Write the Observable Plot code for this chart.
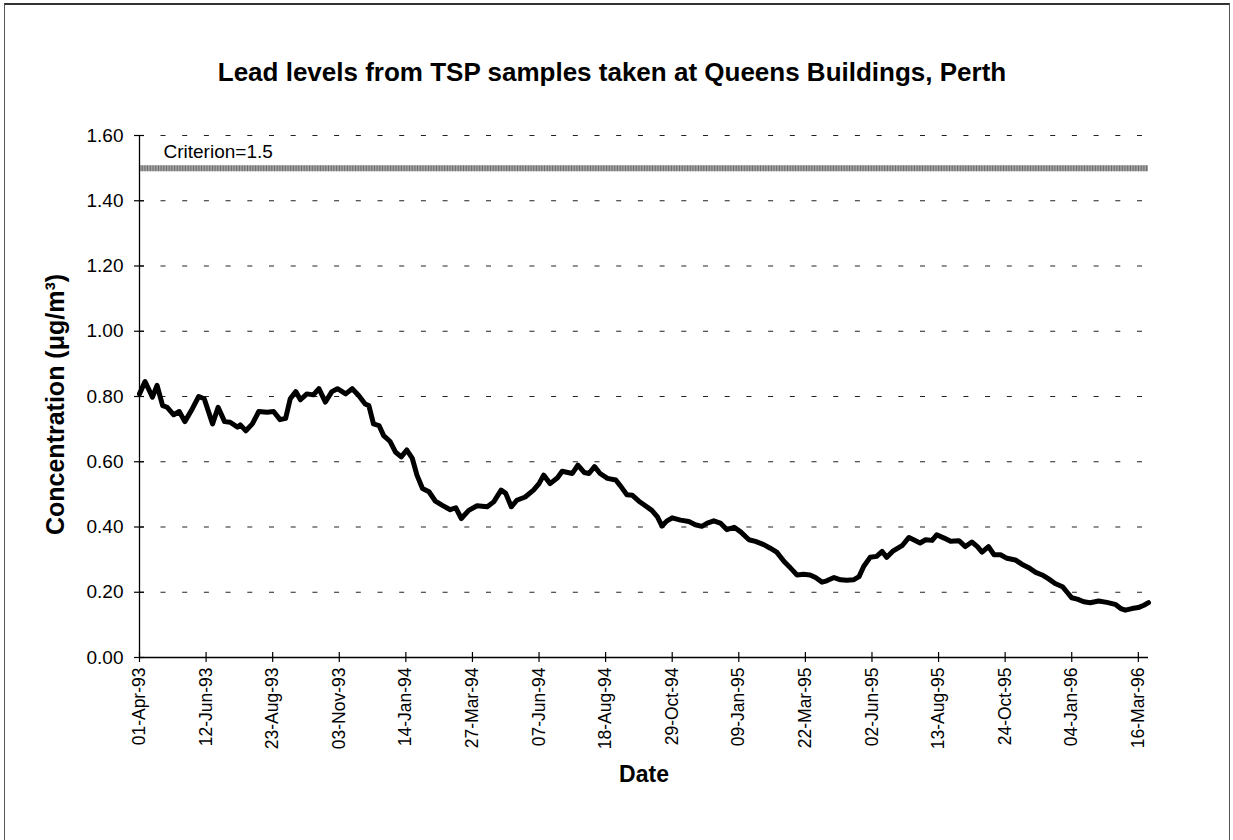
<!DOCTYPE html>
<html>
<head>
<meta charset="utf-8">
<script src="https://cdn.jsdelivr.net/npm/d3@7"></script>
<script src="https://cdn.jsdelivr.net/npm/@observablehq/plot@0.6"></script>
<style>
  html, body { margin: 0; padding: 0; background: #fff; }
  #page { position: relative; width: 1233px; height: 840px; overflow: hidden; font-family: "Liberation Sans", Arial, sans-serif; }
  #border { position: absolute; left: 4px; top: 3px; width: 1226px; height: 860px; border-left: 1.5px solid #555; border-top: 2px solid #333; border-right: 1.5px solid #555; box-sizing: border-box; }
  #title { position: absolute; left: 0; top: 57px; width: 1224px; text-align: center; font-weight: bold; font-size: 26px; color: #000; }
  #chart { position: absolute; left: 0; top: 100px; }
</style>
</head>
<body>
<div id="page">
  <div id="border"></div>
  <div id="title">Lead levels from TSP samples taken at Queens Buildings, Perth</div>
  <div id="chart"></div>
</div>
<script>
// ---- data ----
const startDate = "1993-04-01";
// days since 01-Apr-93
const dayOffsets = [0,6,14,19,25,30,37,43,49,57,64,70,79,85,92,98,106,109,115,122,129,138,145,152,158,163,169,174,181,188,194,201,208,214,223,230,237,244,248,253,259,264,271,277,283,289,295,300,306,313,320,327,336,342,348,356,365,376,383,391,396,402,408,417,426,432,437,444,452,457,468,474,481,486,492,498,506,515,520,527,533,540,547,554,560,565,570,576,585,594,601,608,614,621,628,635,643,650,659,666,675,682,689,697,704,711,718,725,731,738,743,751,758,765,772,778,783,790,797,803,808,815,825,832,837,844,850,857,862,870,877,886,893,900,906,911,918,924,931,938,947,954,961,969,976,983,990,998,1003,1008,1014,1021,1028,1037,1046,1055,1061,1066,1073,1080,1086,1091];
const leadValues = [0.808,0.846,0.798,0.834,0.772,0.767,0.744,0.754,0.723,0.762,0.800,0.793,0.716,0.767,0.723,0.721,0.706,0.713,0.695,0.716,0.754,0.752,0.754,0.729,0.733,0.793,0.815,0.790,0.808,0.805,0.824,0.783,0.815,0.824,0.808,0.824,0.803,0.777,0.772,0.716,0.711,0.680,0.662,0.629,0.615,0.636,0.610,0.559,0.518,0.508,0.479,0.467,0.453,0.459,0.426,0.451,0.465,0.462,0.477,0.513,0.503,0.462,0.482,0.492,0.513,0.533,0.559,0.533,0.551,0.571,0.564,0.590,0.567,0.564,0.585,0.564,0.549,0.544,0.526,0.499,0.497,0.479,0.465,0.451,0.431,0.403,0.418,0.428,0.421,0.417,0.407,0.402,0.412,0.419,0.412,0.392,0.399,0.385,0.361,0.356,0.346,0.335,0.323,0.294,0.274,0.253,0.255,0.253,0.245,0.231,0.235,0.245,0.238,0.237,0.238,0.248,0.279,0.307,0.310,0.325,0.307,0.327,0.344,0.368,0.361,0.351,0.361,0.359,0.376,0.366,0.356,0.358,0.340,0.354,0.340,0.323,0.340,0.315,0.315,0.304,0.299,0.286,0.276,0.261,0.253,0.241,0.227,0.217,0.200,0.183,0.179,0.171,0.168,0.173,0.169,0.163,0.150,0.145,0.150,0.153,0.160,0.168];
const xTickLabels = ["01-Apr-93","12-Jun-93","23-Aug-93","03-Nov-93","14-Jan-94","27-Mar-94","07-Jun-94","18-Aug-94","29-Oct-94","09-Jan-95","22-Mar-95","02-Jun-95","13-Aug-95","24-Oct-95","04-Jan-96","16-Mar-96"];
const yTicks = [0, 0.2, 0.4, 0.6, 0.8, 1.0, 1.2, 1.4, 1.6];
const criterionValue = 1.5;
const criterionLabel = "Criterion=1.5";
const endDay = 1091;
const xTitle = "Date";
const yTitle = "Concentration (\u03BCg/m\u00B3)";

// ---- build ----
const DAY = 864e5;
const t0 = new Date(startDate + "T00:00:00Z");
const series = dayOffsets.map((d, i) => ({date: new Date(+t0 + d * DAY), value: leadValues[i]}));
const parseTick = d3.utcParse("%d-%b-%y");
const xTicks = xTickLabels.map(parseTick);
const fmt = d3.utcFormat("%d-%b-%y");
const xEnd = new Date(+t0 + endDay * DAY);

const chart = Plot.plot({
  width: 1233,
  height: 740,
  marginLeft: 139,
  marginRight: 85,
  marginTop: 35,
  marginBottom: 183,
  style: {fontFamily: "'Liberation Sans', Arial, sans-serif", color: "#000", background: "transparent"},
  x: {type: "utc", domain: [t0, xEnd]},
  y: {domain: [0, 1.6]},
  marks: [
    Plot.ruleY(yTicks.filter(d => d > 0), {stroke: "#222", strokeWidth: 1.2, strokeDasharray: "5,16.7", strokeDashoffset: 0.2}),
    Plot.ruleY([criterionValue], {stroke: "#a2a2a2", strokeWidth: 6}),
    Plot.ruleY([criterionValue], {stroke: "#4a4a4a", strokeWidth: 6, strokeDasharray: "1,1.7", strokeOpacity: 0.6}),
    Plot.text([criterionLabel], {x: () => t0, y: () => criterionValue, text: d => d, dx: 24, dy: -16, textAnchor: "start", fontSize: 19, fill: "#000"}),
    Plot.ruleX([t0], {stroke: "#000", strokeWidth: 1.3}),
    Plot.ruleY([0], {stroke: "#000", strokeWidth: 1.3}),
    Plot.axisY({ticks: yTicks, tickFormat: d => d.toFixed(2), tickSize: 10, dx: 5, tickPadding: 11, fontSize: 19, label: null, strokeWidth: 1.2}),
    Plot.axisX({ticks: xTicks, tickFormat: fmt, tickSize: 10, dy: -5, tickPadding: 5, tickRotate: -90, fontSize: 17.5, label: null, strokeWidth: 1.2}),
    Plot.line(series, {x: "date", y: "value", stroke: "#000", strokeWidth: 5, strokeLinejoin: "round", strokeLinecap: "round"}),
    Plot.text([yTitle], {frameAnchor: "left", dx: -84, dy: 8, rotate: -90, textAnchor: "middle", text: d => d, fontSize: 25, fontWeight: "bold", fill: "#000"}),
    Plot.text([xTitle], {frameAnchor: "bottom", dy: 124, textAnchor: "middle", text: d => d, fontSize: 23, fontWeight: "bold", fill: "#000"})
  ]
});
document.getElementById("chart").appendChild(chart);
</script>
</body>
</html>
